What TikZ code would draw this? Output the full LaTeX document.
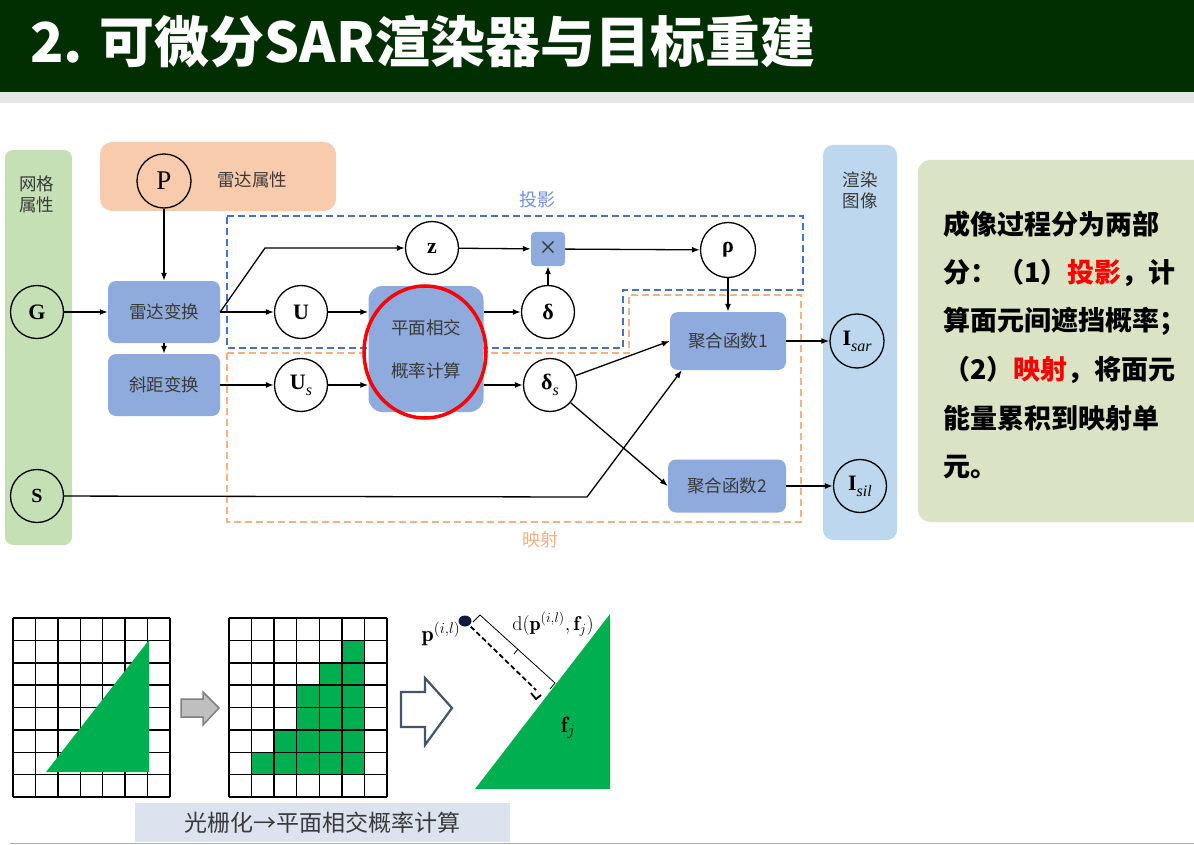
\RequirePackage{fix-cm}
\documentclass[tikz,border=0pt]{standalone}
\usepackage{amsmath}
\usepackage{fontspec}
\usetikzlibrary{arrows.meta,calc}
\newfontfamily\cjk{Noto Sans CJK SC}
\newfontfamily\tser{Liberation Serif}
% italic subscript set beside a symbol
\newcommand\symsub[1]{\raisebox{-0.28em}{\fontsize{16}{16}\selectfont\tser\itshape\mdseries #1}}

\definecolor{headgreen}{HTML}{022F02}
\definecolor{bandgray}{HTML}{E4E6E6}
\definecolor{panelgreen}{HTML}{C5E0B4}
\definecolor{radarorange}{HTML}{F8CBAD}
\definecolor{panelblue}{HTML}{BDD7EE}
\definecolor{notegreen}{HTML}{DAE3C4}
\definecolor{boxblue}{HTML}{8FAADC}
\definecolor{labelgray}{HTML}{3A3A3A}
\definecolor{projblue}{HTML}{4472C4}
\definecolor{projtext}{HTML}{7090D6}
\definecolor{maporange}{HTML}{F4B183}
\definecolor{trigreen}{HTML}{00B050}
\definecolor{dotnavy}{HTML}{0D1B3E}
\definecolor{arrowgray}{HTML}{BFBFBF}
\definecolor{arrowedge}{HTML}{7F7F7F}
\definecolor{outlineblue}{HTML}{44546A}
\definecolor{capblue}{HTML}{DCE3EF}
\definecolor{linegray}{HTML}{A9B4A6}
\definecolor{hired}{HTML}{FF0000}

\begin{document}
\begin{tikzpicture}[x=1pt,y=-1pt,
  circ/.style={circle,draw,line width=1.3pt,minimum size=53pt,inner sep=0pt,
    font=\tser\bfseries\fontsize{22}{22}\selectfont},
  bbox/.style={fill=boxblue,rounded corners=8pt,inner sep=0pt,text=labelgray,
    font=\cjk\fontsize{17.5}{21}\selectfont},
  lbl/.style={font=\cjk\fontsize{17.5}{21}\selectfont,text=labelgray,inner sep=0pt},
  note/.style={font=\cjk\bfseries\fontsize{27}{27}\selectfont,text=black,inner sep=0pt,anchor=west},
  conn/.style={line width=1.3pt,-{Latex[length=8pt,width=6pt]}},
  region/.style={line width=2pt,dash pattern=on 7pt off 4pt},
  gridline/.style={line width=1.5pt},
]
\clip (0,0) rectangle (1194,845);

% title bar
\fill[headgreen] (0,0) rectangle (1194,92);
\fill[bandgray] (0,92) rectangle (1194,103);
\node[anchor=west,text=white,font=\cjk\bfseries\fontsize{55}{60}\selectfont,inner sep=0pt]
  (title) at (30,42) {2. 可微分SAR渲染器与目标重建};

% background panels
\fill[panelgreen,rounded corners=8pt] (5,150) rectangle (72,545);
\node[lbl,align=center] (meshlbl) at (37,194) {网格\\属性};
\fill[radarorange,rounded corners=12pt] (100,142) rectangle (336,211);
\node[lbl] (radarlbl) at (252,180) {雷达属性};
\fill[panelblue,rounded corners=10pt] (823,145) rectangle (897,540);
\node[lbl,align=center] (renderlbl) at (860,190) {渲染\\图像};
\fill[notegreen,rounded corners=12pt] (918,160) rectangle (1210,522);

% projection and mapping regions
\draw[region,projblue] (227,216) -- (803,216) -- (803,290) -- (623,290) -- (623,348) -- (227,348) -- cycle;
\draw[region,maporange] (227,353) -- (629,353) -- (629,295) -- (801,295) -- (801,522) -- (227,522) -- cycle;
\node[lbl,text=projtext,font=\cjk\fontsize{18}{21}\selectfont] (projlbl) at (537,200) {投影};
\node[lbl,text=maporange,font=\cjk\fontsize{18}{21}\selectfont] (maplbl) at (540,540) {映射};

% variables
\node[circ,minimum size=54pt,font=\tser\fontsize{27}{27}\selectfont] (P) at (164,181) {P};
\node[circ] (G) at (37,312) {G};
\node[circ,font=\tser\bfseries\fontsize{20}{20}\selectfont] (S) at (37,496) {S};
\node[circ] (z) at (432,248) {z};
\node[circ] (U) at (301,312) {U};
\node[circ] (Us) at (301,385) {U\symsub{s}};
\node[circ] (d) at (548,312) {δ};
\node[circ] (ds) at (550,385) {δ\symsub{s}};
\node[circ,minimum size=55pt] (rho) at (728,250) {ρ};
\node[circ,minimum size=54pt] (Isar) at (857,341) {I\symsub{sar}};
\node[circ] (Isil) at (860,486) {I\symsub{sil}};

% operations
\node[bbox,minimum width=112pt,minimum height=62pt] (rt) at (164,312) {雷达变换};
\node[bbox,minimum width=112pt,minimum height=62pt] (st) at (164,385) {斜距变换};
\node[bbox,minimum width=115pt,minimum height=126pt,rounded corners=14pt,align=center]
  (pi) at (426,349) {平面相交\\[22pt]概率计算};
\node[bbox,minimum size=34pt,rounded corners=4pt,font=\tser\fontsize{30}{30}\selectfont] (mult) at (548,249) {×};
\node[bbox,minimum width=116pt,minimum height=58pt] (agg1) at (728,341) {聚合函数1};
\node[bbox,minimum width=118pt,minimum height=53pt] (agg2) at (727,486) {聚合函数2};

% connectors
\coordinate (k1) at (265,248);
\coordinate (k2) at (587,497);
\draw[conn] (P) -- (rt);
\draw[conn] (G) -- (rt);
\draw[conn] (rt) -- (st);
\draw[conn] (rt) -- (U);
\draw[conn] (rt.east) -- (k1) -- (z);
\draw[conn] (st) -- (Us);
\draw[conn] (U) -- (U -| pi.west);
\draw[conn] (Us) -- (Us -| pi.west);
\draw[conn] (pi.east |- d) -- (d);
\draw[conn] (pi.east |- ds) -- (ds);
\draw[conn] (z) -- (mult);
\draw[conn] (d) -- (mult);
\draw[conn] (mult) -- (rho);
\draw[conn] (rho) -- (agg1);
\draw[conn] (ds) -- (agg1.west);
\draw[conn] (ds) -- (agg2.west);
\draw[conn] (S) -- (k2) -- ($(agg1.south west)+(12,0)$);
\draw[conn] (agg1) -- (Isar);
\draw[conn] (agg2) -- (Isil);

% highlight ring
\draw[hired,line width=3.5pt] (425,352) ellipse [x radius=61, y radius=66];

% explanation text
\node[note] (n1) at (943,224) {成像过程分为两部};
\node[note] (n2) at (943,272.6) {分：（1）\textcolor{hired}{投影}，计};
\node[note] (n3) at (943,321.2) {算面元间遮挡概率；};
\node[note] (n4) at (943,369.8) {（2）\textcolor{hired}{映射}，将面元};
\node[note] (n5) at (943,418.4) {能量累积到映射单};
\node[note] (n6) at (943,467) {元。};

% continuous triangle over the pixel grid
\foreach \i in {0,...,7} \draw[gridline] ({13+\i*22.43},618) -- ({13+\i*22.43},797);
\foreach \j in {0,...,8} \draw[gridline] (13,{618+\j*22.375}) -- (170,{618+\j*22.375});
\fill[trigreen] (46,772) -- (149,640) -- (149,772) -- cycle;

% gray step arrow
\draw[arrowedge,fill=arrowgray,line width=1.5pt]
  (181,699) -- (203,699) -- (203,692) -- (219,708) -- (203,725) -- (203,717) -- (181,717) -- cycle;

% rasterised cells
\foreach \c/\r in {5/1,4/2,5/2,3/3,4/3,5/3,3/4,4/4,5/4,2/5,3/5,4/5,5/5,1/6,2/6,3/6,4/6,5/6}
  \fill[trigreen] ({229+\c*22.57},{618+\r*22.375}) rectangle ({229+(\c+1)*22.57},{618+(\r+1)*22.375});
\foreach \i in {0,...,7} \draw[gridline] ({229+\i*22.57},618) -- ({229+\i*22.57},797);
\foreach \j in {0,...,8} \draw[gridline] (229,{618+\j*22.375}) -- (387,{618+\j*22.375});

% outline arrow
\draw[outlineblue,fill=white,line width=2.2pt]
  (401,692) -- (425,692) -- (425,678) -- (452,708) -- (425,745) -- (425,727) -- (401,727) -- cycle;

% point-to-face distance
\fill[trigreen] (475,789) -- (610,614) -- (610,789) -- cycle;
\coordinate (pdot) at (465,621);
\coordinate (foot) at (536,690);
\draw[line width=1.8pt,dash pattern=on 5pt off 3pt] (pdot) -- (foot);
\fill[dotnavy] (pdot) ellipse [x radius=6.5, y radius=5.5];
\draw[line width=1.8pt] (531,693) -- (536,699) -- (541,695);
\draw[line width=0.8pt] (473,622) -- (480,615) -- (555,683) -- (550,689);
\draw[line width=0.8pt] (518,649) -- (514,654);
\node[inner sep=0pt,font=\fontsize{22}{22}\selectfont] (plbl) at (441,634) {$\mathbf{p}^{(i,l)}$};
\node[inner sep=0pt,font=\fontsize{20}{20}\selectfont] (dlbl) at (553,624) {$\mathrm{d}(\mathbf{p}^{(i,l)},\mathbf{f}_j)$};
\node[inner sep=0pt,font=\fontsize{22}{22}\selectfont] (flbl) at (568,728) {$\mathbf{f}_j$};

% caption
\fill[capblue] (135,803) rectangle (510,842);
\node[inner sep=0pt,font=\cjk\fontsize{23}{23}\selectfont,text=labelgray] (cap) at (322,823) {光栅化→平面相交概率计算};
\draw[linegray,line width=1.5pt] (10,843.5) -- (1194,843.5);
\end{tikzpicture}
\end{document}
